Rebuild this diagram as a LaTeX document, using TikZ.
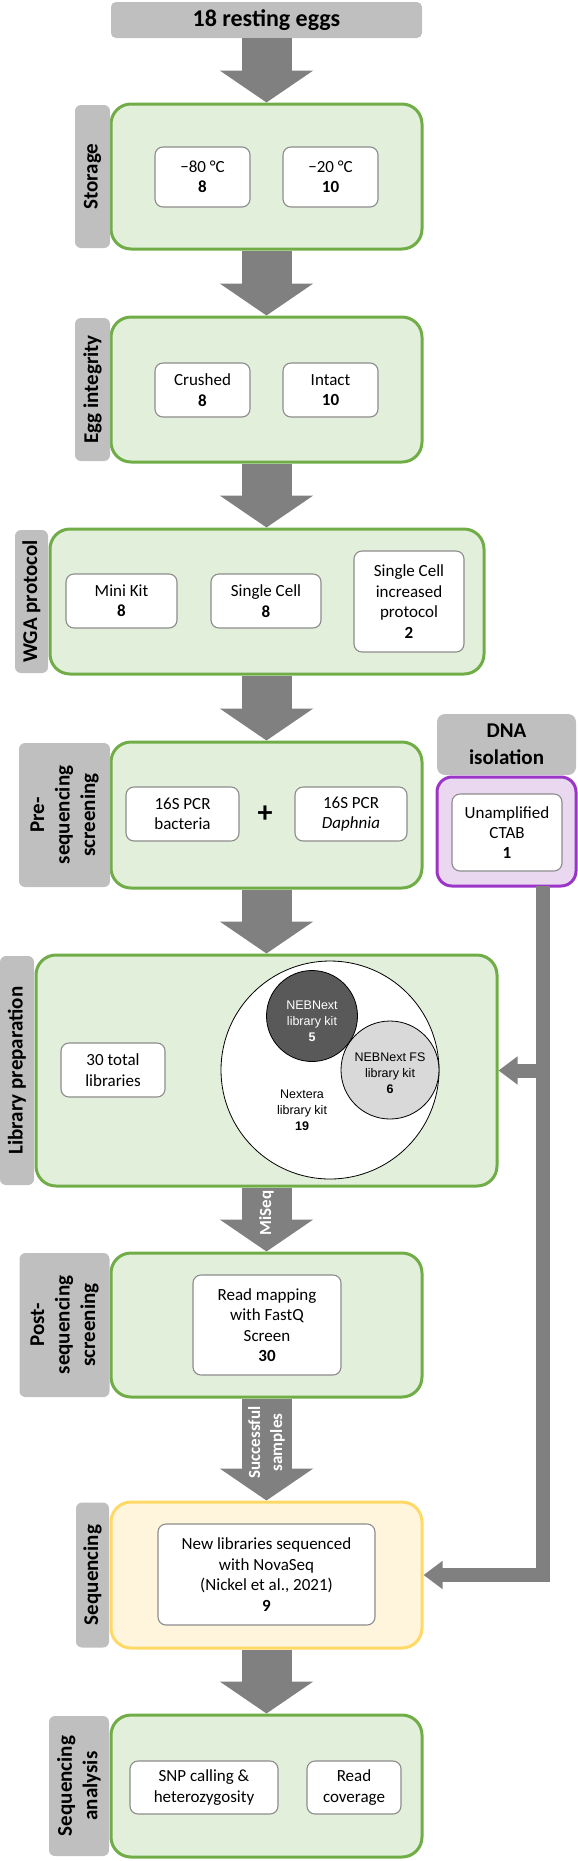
\documentclass[tikz,border=0pt]{standalone}
\usepackage{fontspec}
\setmainfont{Carlito}
\newfontfamily\arialf{Liberation Sans}
\usetikzlibrary{arrows.meta,calc}
\definecolor{tabgray}{HTML}{BFBFBF}
\definecolor{arrowgray}{HTML}{808080}
\definecolor{stgreen}{HTML}{70AD47}
\definecolor{stfill}{HTML}{E2EFDA}
\definecolor{styellow}{HTML}{FFD966}
\definecolor{yfill}{HTML}{FFF5DC}
\definecolor{stpurple}{HTML}{9B35C8}
\definecolor{pfill}{HTML}{EAD8F1}
\definecolor{itemgray}{HTML}{8C8C8C}
\definecolor{vdark}{HTML}{595959}
\definecolor{vlight}{HTML}{D9D9D9}
\begin{document}
\begin{tikzpicture}[x=1pt,y=-1pt,
  tab/.style={fill=tabgray, rounded corners=6pt, inner sep=0pt, align=center,
    font=\bfseries\fontsize{21}{25.5}\selectfont, rotate=90},
  stage/.style={draw=stgreen, line width=3pt, fill=stfill, rounded corners=20pt, inner sep=0pt},
  item/.style={draw=itemgray, line width=1.1pt, fill=white, rounded corners=8pt, inner sep=0pt,
    align=center, font=\fontsize{17}{20.4}\selectfont},
  bigarrow/.style={draw=arrowgray, line width=50pt, -{Triangle[width=92pt,length=32pt]}},
  side/.style={draw=arrowgray, line width=14pt, line join=miter, -{Triangle[width=27pt,length=19pt]}},
  arrowtext/.style={text=white, font=\bfseries\fontsize{17}{22}\selectfont, align=center, rotate=90, inner sep=0pt},
  venn/.style={circle, draw=black, line width=0.8pt, inner sep=0pt},
  venntext/.style={font=\arialf\fontsize{12.5}{16}\selectfont, align=center, inner sep=0pt}
]
\useasboundingbox (0,0) rectangle (578,1861);

% top
\node[fill=tabgray, rounded corners=5pt, minimum width=311pt, minimum height=36pt, inner sep=0pt,
  font=\bfseries\fontsize{24}{28}\selectfont] (top) at (266.5,20) {18 resting eggs};

% Storage
\node[stage, minimum width=311pt, minimum height=145pt] (storage) at (266.5,176.5) {};
\node[tab, minimum width=143pt, minimum height=35pt] (storagetab) at (92.5,176.5) {Storage};
\node[item, minimum width=95pt, minimum height=60pt] (m80) at (202.5,177) {−80 °C\\\textbf{8}};
\node[item, minimum width=95pt, minimum height=60pt] (m20) at (330.5,177) {−20 °C\\\textbf{10}};

% Egg integrity
\node[stage, minimum width=311pt, minimum height=145pt] (egg) at (266.5,389.5) {};
\node[tab, minimum width=143pt, minimum height=35pt] (eggtab) at (92.5,389.5) {Egg integrity};
\node[item, minimum width=95pt, minimum height=54pt] (crushed) at (202.5,390) {Crushed\\\textbf{8}};
\node[item, minimum width=95pt, minimum height=54pt] (intact) at (330.5,390) {Intact\\\textbf{10}};

% WGA
\node[stage, minimum width=434pt, minimum height=145pt] (wga) at (267,601.5) {};
\node[tab, minimum width=143pt, minimum height=33pt] (wgatab) at (31.5,601.5) {WGA protocol};
\node[item, minimum width=111pt, minimum height=54pt] (mini) at (121.5,601) {Mini Kit\\\textbf{8}};
\node[item, minimum width=110pt, minimum height=54pt] (single) at (266,601) {Single Cell\\\textbf{8}};
\node[item, minimum width=110pt, minimum height=101pt] (singleinc) at (409,601.5) {Single Cell\\increased\\protocol\\\textbf{2}};

% Pre-sequencing
\node[stage, minimum width=311pt, minimum height=146pt] (pre) at (266.5,815) {};
\node[tab, minimum width=144pt, minimum height=91pt] (pretab) at (64.5,815) {Pre-\\sequencing\\screening};
\node[item, minimum width=113pt, minimum height=54pt] (bact) at (182.5,814) {16S PCR\\bacteria};
\node[font=\bfseries\fontsize{30}{30}\selectfont, inner sep=0pt] (plus) at (265,814) {+};
\node[item, minimum width=112pt, minimum height=54pt] (daph) at (351,814) {16S PCR\\\textit{Daphnia}};

% DNA isolation
\node[fill=tabgray, rounded corners=8pt, minimum width=139pt, minimum height=61pt, inner sep=0pt,
  align=center, font=\bfseries\fontsize{21}{27}\selectfont] (dna) at (506.5,744.5) {DNA\\isolation};
\node[draw=stpurple, line width=3pt, fill=pfill, rounded corners=15pt, minimum width=139pt,
  minimum height=109pt, inner sep=0pt] (purple) at (506.5,831.5) {};
\node[item, minimum width=110pt, minimum height=77pt] (unamp) at (507,832.5) {Unamplified\\CTAB\\\textbf{1}};

% Library preparation
\node[stage, minimum width=461pt, minimum height=231pt] (lib) at (266.5,1070.5) {};
\node[tab, minimum width=229pt, minimum height=34pt] (libtab) at (17,1070.5) {Library preparation};
\node[item, minimum width=104pt, minimum height=54pt] (total) at (113,1070) {30 total\\libraries};
\node[venn, fill=white, minimum size=218pt] (nextera) at (330,1070) {};
\node[venn, fill=vdark, minimum size=91pt] (neb) at (312,1016) {};
\node[venn, fill=vlight, minimum size=98pt] (nebfs) at (390,1070) {};
\node[venntext, text=white] (nebtext) at (312,1021) {NEBNext\\library kit\\\textbf{5}};
\node[venntext] (nebfstext) at (390,1073) {NEBNext FS\\library kit\\\textbf{6}};
\node[venntext] (nexteratext) at (302,1110) {Nextera\\library kit\\\textbf{19}};

% Post-sequencing
\node[stage, minimum width=311pt, minimum height=144pt] (post) at (266.5,1325) {};
\node[tab, minimum width=144pt, minimum height=90pt] (posttab) at (64.5,1325) {Post-\\sequencing\\screening};
\node[item, minimum width=148pt, minimum height=100pt] (mapping) at (267,1325) {Read mapping\\with FastQ\\Screen\\\textbf{30}};

% Sequencing
\node[stage, draw=styellow, fill=yfill, minimum width=311pt, minimum height=146pt] (seq) at (266.5,1575) {};
\node[tab, minimum width=145pt, minimum height=33pt] (seqtab) at (92.5,1575) {Sequencing};
\node[item, minimum width=217pt, minimum height=101pt] (nova) at (266.5,1574.5) {New libraries sequenced\\with NovaSeq\\(Nickel et al., 2021)\\\textbf{9}};

% Sequencing analysis
\node[stage, minimum width=311pt, minimum height=142pt] (ana) at (266.5,1786) {};
\node[tab, minimum width=140pt, minimum height=60pt] (anatab) at (79,1786) {Sequencing\\analysis};
\node[item, minimum width=148pt, minimum height=53pt] (snp) at (204,1787.5) {SNP calling \&\\heterozygosity};
\node[item, minimum width=94pt, minimum height=53pt] (cov) at (354,1787.5) {Read\\coverage};

% main arrows
\draw[bigarrow] (top.south) -- (storage.north);
\draw[bigarrow] (storage.south) -- (egg.north);
\draw[bigarrow] (egg.south) -- (egg.south |- wga.north);
\draw[bigarrow] (egg.south |- wga.south) -- (pre.north);
\draw[bigarrow] (pre.south) -- (pre.south |- lib.north);
\draw[bigarrow] (pre.south |- lib.south) -- node[arrowtext, pos=0.4] (miseq) {MiSeq} (post.north);
\draw[bigarrow] (post.south) -- node[arrowtext, pos=0.43] (succ) {Successful\\samples} (seq.north);
\draw[bigarrow] (seq.south) -- (ana.north);

% side connector
\coordinate (bartop) at (542.5,886);
\draw[side] (bartop) |- (seq.east);
\draw[side] (bartop |- lib.east) -- (lib.east);
\end{tikzpicture}
\end{document}
